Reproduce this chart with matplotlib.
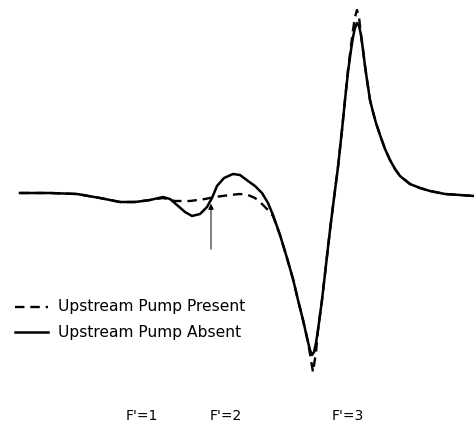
import matplotlib
matplotlib.use('Agg')
import matplotlib.pyplot as plt

# detuning (arb. units) and signal (arb. units, baseline = 0)
absent_x = [20, 50, 77, 100, 120, 135, 150, 163, 170, 177, 185, 192, 200, 207,
            212, 217, 224, 233, 240, 248, 255, 262, 268, 273, 280, 287, 293,
            298, 303, 308, 310, 312, 314, 316, 318, 322, 326, 330, 334, 338,
            342, 345, 348, 351, 353, 355, 357, 359, 361, 363, 365, 367, 370,
            373, 376, 380, 385, 390, 395, 400, 410, 420, 430, 445, 460, 474]
absent_y = [-1, -1, -2, -6, -10, -10, -8, -5, -7, -13, -20, -24, -22, -15,
            -6, 6, 14, 18, 17, 11, 6, -1, -11, -23, -43, -66, -87,
            -108, -128, -150, -158, -163, -160, -151, -138, -108, -73, -38, -6, 25,
            62, 92, 120, 142, 155, 164, 169, 166, 157, 142, 126, 112, 92,
            80, 69, 57, 43, 32, 23, 16, 8, 4, 1, -2, -3, -4]

present_x = [20, 50, 77, 100, 120, 135, 150, 163, 175, 190, 205, 215, 230,
             240, 248, 255, 262, 268, 273, 280, 287, 293, 298, 303, 308, 310,
             313, 316, 318, 322, 326, 330, 334, 338, 342, 345, 348, 351, 353,
             355, 357, 359, 361, 363, 365, 367, 370, 373, 376, 380, 385, 390,
             395, 400, 410, 420, 430, 445, 460, 474]
present_y = [-1, -1, -2, -6, -10, -10, -8, -6, -9, -9, -7, -5, -3,
             -2, -3, -6, -12, -18, -24, -43, -66, -87, -108, -128, -150, -162,
             -180, -160, -138, -108, -73, -38, -6, 25, 62, 92, 122, 146, 162,
             175, 182, 175, 157, 142, 126, 112, 92, 80, 69, 57, 43, 32,
             23, 16, 8, 4, 1, -2, -3, -4]

line_labels = ['Upstream Pump Present', 'Upstream Pump Absent']
transition_labels = ["F'=1", "F'=2", "F'=3"]
transition_x = [142, 226, 348]
arrow_x = 211

fig = plt.figure(figsize=(4.74, 4.28), dpi=100)
ax = fig.add_axes([0, 0, 1, 1])
ax.set_xlim(0, 474)
ax.set_ylim(-236, 192)
ax.axis('off')

ax.plot(present_x, present_y, color='black', lw=1.7, ls=(0, (4, 2.5)))
ax.plot(absent_x, absent_y, color='black', lw=1.8)

ax.annotate('', xy=(arrow_x, -9), xytext=(arrow_x, -60),
            arrowprops=dict(arrowstyle='-|>', color='black', lw=0.7,
                            mutation_scale=8))

# hand-made legend, lower left
ax.plot([15, 48], [-115, -115], color='black', lw=1.7, ls=(0, (4, 2.5)))
ax.plot([15, 48], [-140, -140], color='black', lw=1.8)
ax.text(58, -115, line_labels[0], fontsize=11.2, va='center', ha='left')
ax.text(58, -140, line_labels[1], fontsize=11.2, va='center', ha='left')

for lx, lab in zip(transition_x, transition_labels):
    ax.text(lx, -224, lab, fontsize=10, ha='center', va='center')

fig.savefig('out.png', dpi=100)
